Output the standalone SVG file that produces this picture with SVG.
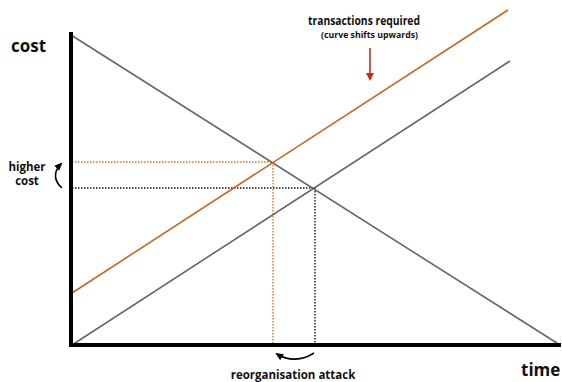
<svg xmlns="http://www.w3.org/2000/svg" width="562" height="382" viewBox="0 0 562 382">
  <style>
    .lbl { font-family: "Open Sans", "Liberation Sans", sans-serif; font-weight: bold; fill: #111; }
    .curve { stroke: #666; stroke-width: 1.6; fill: none; }
    .shifted { stroke: #c8661e; stroke-width: 1.6; fill: none; }
    .guide-o { stroke: #d0782a; stroke-width: 1.4; stroke-dasharray: 1.5 1.5; fill: none; }
    .guide-k { stroke: #111; stroke-width: 1.4; stroke-dasharray: 1.5 1.5; fill: none; }
    .axis { stroke: #000; stroke-width: 4; fill: none; }
    .bend { stroke: #000; stroke-width: 1.6; fill: none; }
  </style>
  <defs>
    <marker id="headRed" markerWidth="10" markerHeight="10" refX="6" refY="5" orient="auto" markerUnits="userSpaceOnUse">
      <path d="M0,1 L8,5 L0,9 Z" fill="#cc2a10"/>
    </marker>
    <marker id="headBlack" markerWidth="10" markerHeight="10" refX="6" refY="5" orient="auto" markerUnits="userSpaceOnUse">
      <path d="M0,1.5 L8,5 L0,8.5 Z" fill="#000"/>
    </marker>
  </defs>

  <g id="connectors">
    <!-- guide lines to the axes -->
    <path class="guide-o" d="M72,162 H273 V345"/>
    <path class="guide-k" d="M72,188 H315 V345"/>
    <!-- cost curves -->
    <line class="curve" x1="71" y1="35" x2="560" y2="345"/>
    <line class="curve" x1="72" y1="345" x2="510" y2="61"/>
    <line class="shifted" x1="72" y1="293" x2="508" y2="10"/>
    <!-- shift arrow -->
    <line x1="370" y1="48" x2="370" y2="79" stroke="#cc2a10" stroke-width="1.6" marker-end="url(#headRed)"/>
    <!-- cost rise arrow -->
    <path class="bend" d="M62,188 C54,181 53,172 61,164" marker-end="url(#headBlack)"/>
    <!-- time shift arrow -->
    <path class="bend" d="M314,353 C302,361 288,361 277,354" marker-end="url(#headBlack)"/>
  </g>

  <g id="axes">
    <line class="axis" x1="71" y1="32" x2="71" y2="347"/>
    <line class="axis" x1="69" y1="345" x2="561" y2="345"/>
  </g>

  <g id="label-cost"><text class="lbl" x="11" y="52" font-size="17">cost</text></g>
  <g id="label-time"><text class="lbl" x="521" y="376" font-size="17">time</text></g>
  <g id="label-transactions">
    <text class="lbl" x="308" y="25" font-size="12" textLength="112" lengthAdjust="spacingAndGlyphs">transactions required</text>
    <text class="lbl" x="321" y="38" font-size="8.5" textLength="97" lengthAdjust="spacingAndGlyphs">(curve shifts upwards)</text>
  </g>
  <g id="label-higher-cost">
    <text class="lbl" x="27" y="171" font-size="11.5" text-anchor="middle">higher</text>
    <text class="lbl" x="27" y="185" font-size="11.5" text-anchor="middle">cost</text>
  </g>
  <g id="label-reorg"><text class="lbl" x="293" y="379" font-size="11.5" text-anchor="middle">reorganisation attack</text></g>
</svg>
